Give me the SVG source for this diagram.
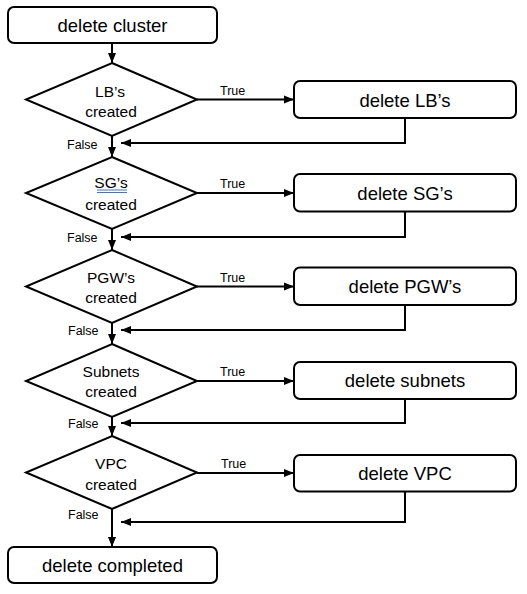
<svg xmlns="http://www.w3.org/2000/svg" width="527" height="594" viewBox="0 0 527 594">
<defs>
<marker id="ah" viewBox="0 0 10 10" refX="10" refY="5" markerWidth="10" markerHeight="10" markerUnits="userSpaceOnUse" orient="auto">
<path d="M0,1 L10,5 L0,9 Z" fill="#000"/>
</marker>
<style>
.box{fill:#fff;stroke:#000;stroke-width:2}
.dia{fill:#fff;stroke:#000;stroke-width:2;stroke-linejoin:miter}
.big{font-family:"Liberation Sans",Arial,sans-serif;font-size:18.5px;fill:#000;text-anchor:middle}
.mid{font-family:"Liberation Sans",Arial,sans-serif;font-size:15.5px;fill:#000;text-anchor:middle}
.sm{font-family:"Liberation Sans",Arial,sans-serif;font-size:12.5px;fill:#000}
.ln{fill:none;stroke:#000;stroke-width:2}
.arr{fill:none;stroke:#000;stroke-width:2;marker-end:url(#ah)}
</style>
</defs>
<rect width="527" height="594" fill="#fff"/>
<g id="connectors">
<line class="arr" x1="112" y1="43" x2="112" y2="63"/>
<line class="arr" x1="112" y1="136" x2="112" y2="157"/>
<line class="arr" x1="112" y1="229" x2="112" y2="250"/>
<line class="arr" x1="112" y1="323" x2="112" y2="344"/>
<line class="arr" x1="112" y1="417" x2="112" y2="436"/>
<line class="arr" x1="112" y1="509" x2="112" y2="547"/>
<line class="arr" x1="197" y1="99.5" x2="294" y2="99.5"/>
<line class="arr" x1="197" y1="193" x2="294" y2="193"/>
<line class="arr" x1="197" y1="286.5" x2="294" y2="286.5"/>
<line class="arr" x1="197" y1="381" x2="294" y2="381"/>
<line class="arr" x1="197" y1="473" x2="294" y2="473"/>
<path class="arr" d="M405,118 V143 H121"/>
<path class="arr" d="M405,211.5 V237 H121"/>
<path class="arr" d="M405,305 V330 H121"/>
<path class="arr" d="M405,399 V423 H121"/>
<path class="arr" d="M405,491.5 V522 H121"/>
<text class="sm" x="220" y="95">True</text>
<text class="sm" x="220" y="188">True</text>
<text class="sm" x="220" y="281.5">True</text>
<text class="sm" x="220" y="375.5">True</text>
<text class="sm" x="221" y="468">True</text>
<text class="sm" x="67" y="149">False</text>
<text class="sm" x="67" y="242">False</text>
<text class="sm" x="68" y="335">False</text>
<text class="sm" x="68" y="428">False</text>
<text class="sm" x="68" y="519">False</text>
</g>
<g id="start">
<rect class="box" x="8" y="7" width="209" height="36" rx="6"/>
<text class="big" x="112.5" y="32">delete cluster</text>
</g>
<g id="d-lb">
<polygon class="dia" points="112,63 197,99.5 112,136 26,99.5"/>
<text class="mid" x="110" y="97">LB’s</text>
<text class="mid" x="111" y="117">created</text>
</g>
<g id="b-lb">
<rect class="box" x="294" y="81" width="222" height="37" rx="6"/>
<text class="big" x="405" y="106.5">delete LB’s</text>
</g>
<g id="d-sg">
<polygon class="dia" points="112,157 197,193 112,229 26,193"/>
<text class="mid" x="111" y="188">SG’s</text>
<line x1="97" y1="190" x2="127" y2="190" stroke="#4472c4" stroke-width="1"/>
<line x1="97" y1="192.5" x2="127" y2="192.5" stroke="#4472c4" stroke-width="1"/>
<text class="mid" x="111" y="210">created</text>
</g>
<g id="b-sg">
<rect class="box" x="294" y="174" width="222" height="37.5" rx="6"/>
<text class="big" x="405" y="199.5">delete SG’s</text>
</g>
<g id="d-pgw">
<polygon class="dia" points="112,250 197,286.5 112,323 26,286.5"/>
<text class="mid" x="111" y="283">PGW’s</text>
<text class="mid" x="111" y="303">created</text>
</g>
<g id="b-pgw">
<rect class="box" x="294" y="267.5" width="222" height="37.5" rx="6"/>
<text class="big" x="405" y="293">delete PGW’s</text>
</g>
<g id="d-subnets">
<polygon class="dia" points="112,344 197,381 112,417 26,381"/>
<text class="mid" x="111" y="377">Subnets</text>
<text class="mid" x="111" y="397">created</text>
</g>
<g id="b-subnets">
<rect class="box" x="294" y="362" width="222" height="37" rx="6"/>
<text class="big" x="405" y="387">delete subnets</text>
</g>
<g id="d-vpc">
<polygon class="dia" points="112,436 197,472.5 112,509 26,472.5"/>
<text class="mid" x="111" y="469">VPC</text>
<text class="mid" x="111" y="490">created</text>
</g>
<g id="b-vpc">
<rect class="box" x="294" y="455" width="222" height="36.5" rx="6"/>
<text class="big" x="405" y="480">delete VPC</text>
</g>
<g id="end">
<rect class="box" x="8" y="547" width="209" height="36" rx="6"/>
<text class="big" x="112.5" y="572">delete completed</text>
</g>
</svg>
